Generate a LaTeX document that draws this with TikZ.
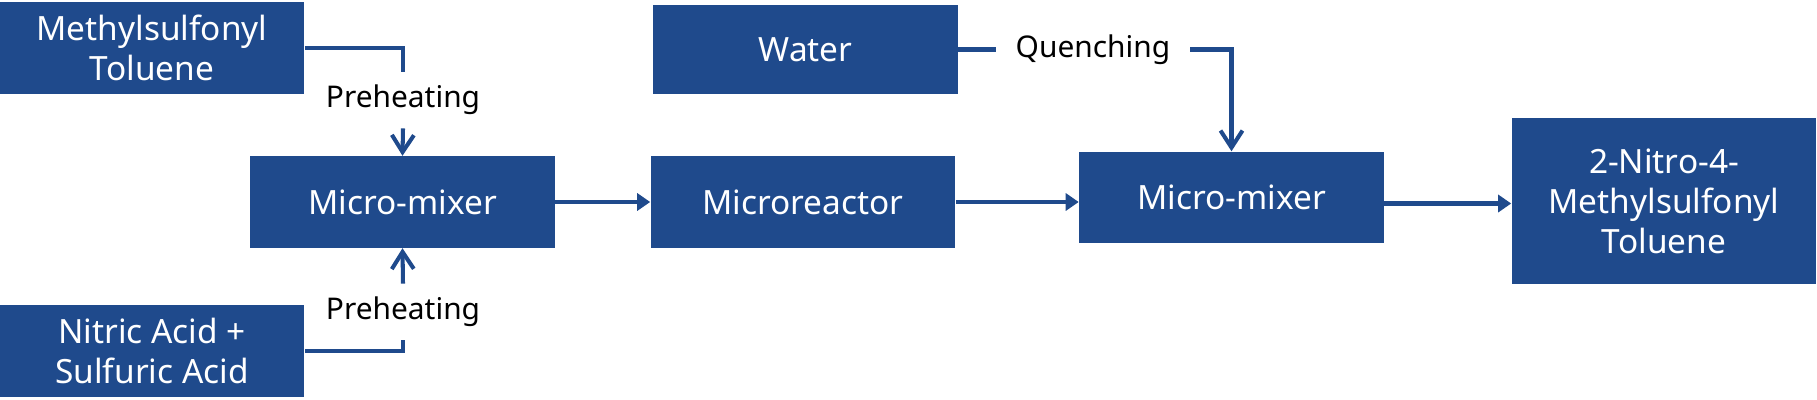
\documentclass[tikz,border=0pt]{standalone}
\usepackage{xcolor}
\usepackage{fontspec}
\setmainfont{Noto Sans}
\usepackage{tikz}
\usetikzlibrary{arrows.meta, positioning}
\definecolor{boxblue}{RGB}{31,74,140}

\begin{document}
\begin{tikzpicture}[
    x=0.01cm, y=-0.01cm,
    unit/.style={fill=boxblue, text=white, minimum width=3.04cm, minimum height=#1, align=center, inner sep=0pt, font=\fontsize{9.5}{11.4}\selectfont},
    unit/.default={0.91cm},
    tag/.style={inner sep=1pt, outer sep=0.1cm, font=\fontsize{8.5}{10}\selectfont},
    pipe/.style={draw=boxblue, line width=1.15pt},
    feedline/.style={pipe, -{Straight Barb[length=0.17cm, width=0.22cm, line width=1.15pt]}},
    flowline/.style={pipe, -{Triangle[length=0.13cm, width=0.17cm]}}
]
\useasboundingbox (0,0) rectangle (1817,400);

% boxes
\node[unit] (feed) at (152,48) {Methylsulfonyl\\Toluene};
\node[unit] (acid) at (152,351) {Nitric Acid +\\Sulfuric Acid};
\node[unit] (mixa) at (402.5,202) {Micro-mixer};
\node[unit] (reactor) at (803,202) {Microreactor};
\node[unit=0.89cm] (water) at (805.5,49.5) {Water};
\node[unit] (mixb) at (1231.5,197.5) {Micro-mixer};
\node[unit=1.66cm] (product) at (1664,201) {2-Nitro-4-\\Methylsulfonyl\\Toluene};

% labels
\node[tag] (heattop) at (403,100) {Preheating};
\node[tag] (heatlow) at (403,312) {Preheating};
\node[tag, inner xsep=0.1cm] (quench) at (1093,49.5) {Quenching};

% connectors
\draw[pipe] (feed.east) -| (heattop.north);
\draw[feedline] (heattop.south) -- (mixa.north);
\draw[pipe] (acid.east) -| (heatlow.south);
\draw[feedline] (heatlow.north) -- (mixa.south);
\draw[flowline] (mixa.east) -- (reactor.west);
\draw[flowline] (reactor.east) -- (reactor.east -| mixb.west);
\draw[pipe] (water.east) -- (quench.west);
\draw[feedline] (quench.east) -| (mixb.north);
\draw[flowline] ([yshift=-0.06cm]mixb.east) -- ([yshift=-0.06cm]mixb.east -| product.west);

\end{tikzpicture}
\end{document}
